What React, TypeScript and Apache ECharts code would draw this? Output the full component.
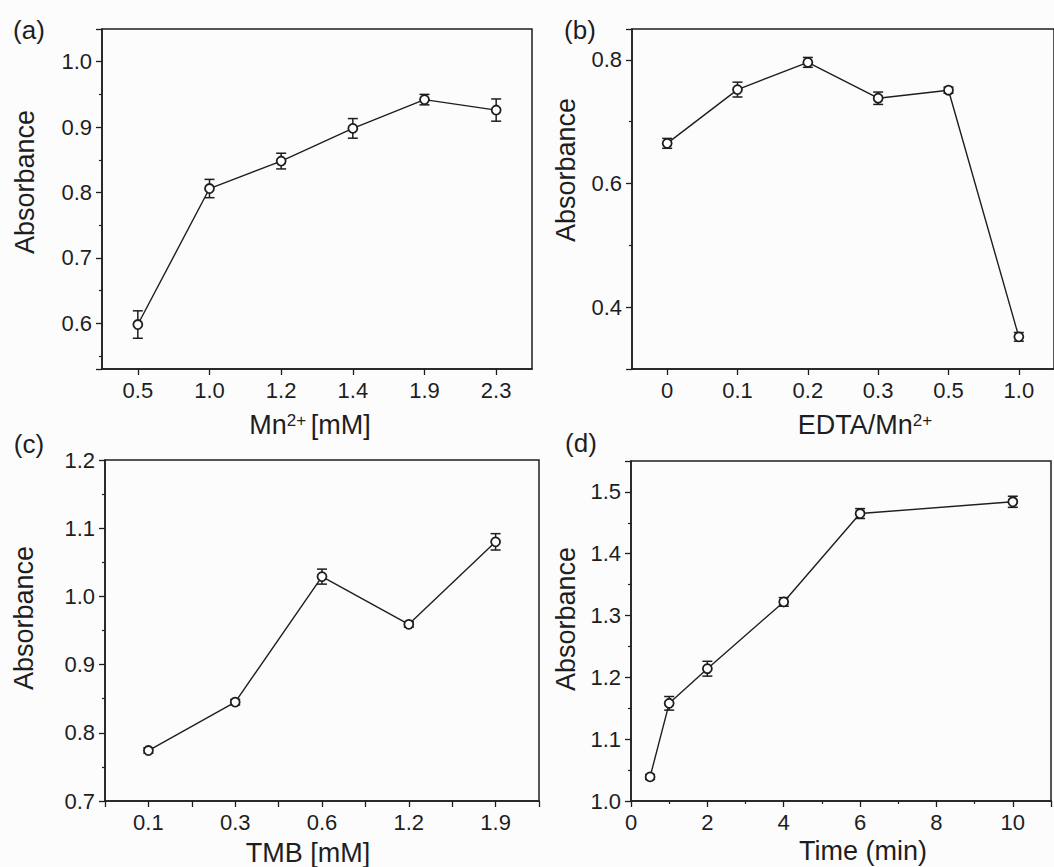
import React, { useEffect, useRef } from 'react';
import * as echarts from 'echarts';

const FONT = '"Liberation Sans", Arial, Helvetica, sans-serif';
const INK = '#1e1e1e';
const TICK_FS = 22;
const TITLE_FS = 27;

// (a) Mn2+ concentration
const mnLabels = ['0.5', '1.0', '1.2', '1.4', '1.9', '2.3'];
const mnAbs = [0.598, 0.806, 0.848, 0.898, 0.942, 0.926];
const mnErr = [0.021, 0.014, 0.012, 0.015, 0.008, 0.017];

// (b) EDTA/Mn2+ ratio
const edtaLabels = ['0', '0.1', '0.2', '0.3', '0.5', '1.0'];
const edtaAbs = [0.665, 0.752, 0.796, 0.738, 0.751, 0.352];
const edtaErr = [0.008, 0.012, 0.008, 0.01, 0.005, 0.007];

// (c) TMB concentration
const tmbLabels = ['0.1', '0.3', '0.6', '1.2', '1.9'];
const tmbAbs = [0.774, 0.845, 1.029, 0.959, 1.08];
const tmbErr = [0.004, 0.004, 0.011, 0.004, 0.012];

// (d) Time
const timeMin = [0.5, 1, 2, 4, 6, 10];
const timeAbs = [1.039, 1.158, 1.214, 1.322, 1.465, 1.484];
const timeErr = [0.004, 0.011, 0.012, 0.007, 0.008, 0.009];

const isStep = (v: number, step: number) => Math.abs(v / step - Math.round(v / step)) < 1e-6;

const axisLine = { show: true, onZero: false, lineStyle: { color: INK, width: 1.5 } };
const majorTick = { show: true, length: 6, lineStyle: { color: INK, width: 1.3 } };
const minorTick = { show: true, splitNumber: 2, length: 3, lineStyle: { color: INK, width: 1.2 } };

function yAxis(gridIndex: number, min: number, max: number, splitNumber: number, step: number) {
  return {
    type: 'value',
    gridIndex,
    min,
    max,
    splitNumber,
    axisLine,
    axisTick: majorTick,
    minorTick,
    splitLine: { show: false },
    minorSplitLine: { show: false },
    axisLabel: {
      fontSize: TICK_FS,
      fontFamily: FONT,
      color: INK,
      margin: 10,
      formatter: (v: number) => (isStep(v, step) ? v.toFixed(1) : ''),
    },
  };
}

function catAxis(gridIndex: number, labels: string[]) {
  return {
    type: 'category',
    gridIndex,
    data: labels,
    boundaryGap: true,
    axisLine,
    axisTick: { ...majorTick, alignWithLabel: true },
    splitLine: { show: false },
    axisLabel: { interval: 0, fontSize: TICK_FS, fontFamily: FONT, color: INK, margin: 10 },
  };
}

function lineSeries(idx: number, data: any[]) {
  return {
    type: 'line',
    xAxisIndex: idx,
    yAxisIndex: idx,
    data,
    symbol: 'circle',
    symbolSize: 9,
    showAllSymbol: true,
    itemStyle: { color: '#ffffff', borderColor: INK, borderWidth: 1.8 },
    lineStyle: { color: INK, width: 1.4 },
    z: 3,
  };
}

function errSeries(idx: number, xs: number[], ys: number[], errs: number[]) {
  return {
    type: 'custom',
    xAxisIndex: idx,
    yAxisIndex: idx,
    data: ys.map((y, i) => [xs[i], y - errs[i], y + errs[i]]),
    encode: { x: 0, y: [1, 2] },
    z: 2,
    renderItem: (params: any, api: any) => {
      const x = api.value(0);
      const lo = api.coord([x, api.value(1)]);
      const hi = api.coord([x, api.value(2)]);
      const w = 5;
      const st = { stroke: INK, lineWidth: 1.5 };
      return {
        type: 'group',
        children: [
          { type: 'line', shape: { x1: lo[0], y1: lo[1], x2: hi[0], y2: hi[1] }, style: st },
          { type: 'line', shape: { x1: lo[0] - w, y1: lo[1], x2: lo[0] + w, y2: lo[1] }, style: st },
          { type: 'line', shape: { x1: hi[0] - w, y1: hi[1], x2: hi[0] + w, y2: hi[1] }, style: st },
        ],
      };
    },
  };
}

function plainText(text: string, x: number, y: number, rotate = false, fontSize = TITLE_FS) {
  return {
    type: 'text',
    x,
    y,
    rotation: rotate ? Math.PI / 2 : 0,
    style: {
      text,
      fontSize,
      fontFamily: FONT,
      fill: INK,
      align: 'center',
      verticalAlign: 'middle',
      textAlign: 'center',
      textVerticalAlign: 'middle',
    },
  };
}

function supText(before: string, sup: string, after: string, x: number, y: number) {
  const parts = ['{m|' + before + '}', '{s|' + sup + (after ? ' ' : '') + '}'];
  if (after) parts.push('{m|' + after + '}');
  return {
    type: 'text',
    x,
    y,
    style: {
      text: parts.join(''),
      rich: {
        m: { fontSize: TITLE_FS, fontFamily: FONT, fill: INK, color: INK },
        s: { fontSize: 17, fontFamily: FONT, fill: INK, color: INK, verticalAlign: 'top' },
      },
      align: 'center',
      verticalAlign: 'middle',
      textAlign: 'center',
      textVerticalAlign: 'middle',
    },
  };
}

export default function App() {
  const ref = useRef<HTMLDivElement>(null);

  useEffect(() => {
    if (!ref.current) return;
    const chart = echarts.init(ref.current, undefined, { renderer: 'svg' });
    const gridStyle = { show: true, borderColor: INK, borderWidth: 1.5, backgroundColor: 'transparent' };
    const option: any = {
      animation: false,
      backgroundColor: '#fcfcfc',
      grid: [
        { left: 102, top: 29, width: 430, height: 340, ...gridStyle },
        { left: 632, top: 29, width: 430, height: 340, ...gridStyle },
        { left: 105, top: 460, width: 434, height: 341, ...gridStyle },
        { left: 631, top: 461, width: 430, height: 340, ...gridStyle },
      ],
      xAxis: [
        catAxis(0, mnLabels),
        catAxis(1, edtaLabels),
        {
          type: 'value',
          gridIndex: 2,
          min: -0.5,
          max: tmbLabels.length - 0.5,
          interval: 0.5,
          axisLine,
          axisTick: majorTick,
          splitLine: { show: false },
          axisLabel: {
            fontSize: TICK_FS,
            fontFamily: FONT,
            color: INK,
            margin: 10,
            formatter: (v: number) => (isStep(v, 1) && v >= 0 && v < tmbLabels.length ? tmbLabels[Math.round(v)] : ''),
          },
        },
        {
          type: 'value',
          gridIndex: 3,
          min: 0,
          max: 11,
          interval: 2,
          axisLine,
          axisTick: majorTick,
          minorTick,
          splitLine: { show: false },
          minorSplitLine: { show: false },
          axisLabel: {
            fontSize: TICK_FS,
            fontFamily: FONT,
            color: INK,
            margin: 10,
            formatter: (v: number) => (isStep(v, 2) && v <= 10 ? String(v) : ''),
          },
        },
      ],
      yAxis: [
        yAxis(0, 0.53, 1.05, 5, 0.1),
        yAxis(1, 0.3, 0.85, 3, 0.2),
        yAxis(2, 0.7, 1.2, 5, 0.1),
        yAxis(3, 1.0, 1.55, 5, 0.1),
      ],
      series: [
        errSeries(0, mnAbs.map((_, i) => i), mnAbs, mnErr),
        lineSeries(0, mnAbs),
        errSeries(1, edtaAbs.map((_, i) => i), edtaAbs, edtaErr),
        lineSeries(1, edtaAbs),
        errSeries(2, tmbAbs.map((_, i) => i), tmbAbs, tmbErr),
        lineSeries(2, tmbAbs.map((v, i) => [i, v])),
        errSeries(3, timeMin, timeAbs, timeErr),
        lineSeries(3, timeAbs.map((v, i) => [timeMin[i], v])),
      ],
      graphic: [
        plainText('(a)', 29, 30, false, 26),
        plainText('(b)', 580, 30, false, 26),
        plainText('(c)', 29, 444, false, 26),
        plainText('(d)', 581, 443, false, 26),
        plainText('Absorbance', 25, 182, true),
        plainText('Absorbance', 566, 170, true),
        plainText('Absorbance', 24, 618, true),
        plainText('Absorbance', 566, 619, true),
        supText('Mn', '2+', '[mM]', 310, 425),
        supText('EDTA/Mn', '2+', '', 865, 425),
        plainText('TMB [mM]', 308, 853),
        plainText('Time (min)', 863, 851),
      ],
    };
    chart.setOption(option);
    return () => chart.dispose();
  }, []);

  return (
    <div
      ref={ref}
      style={{ position: 'absolute', left: 0, top: 0, width: 1054, height: 867, overflow: 'hidden' }}
    />
  );
}
